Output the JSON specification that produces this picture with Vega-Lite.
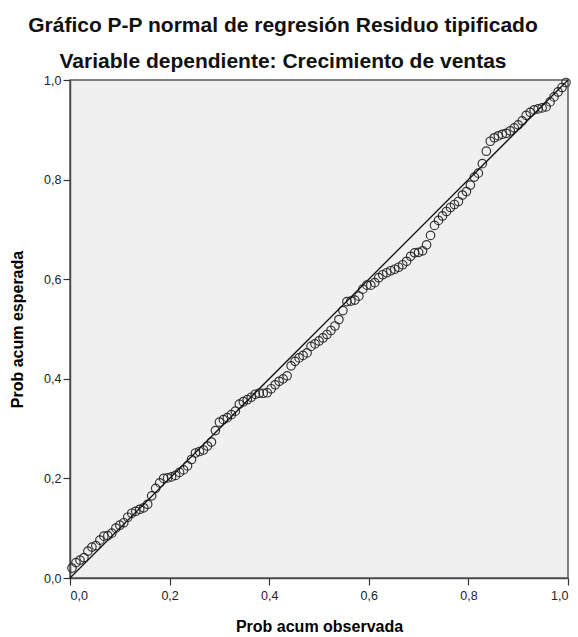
{
  "$schema": "https://vega.github.io/schema/vega-lite/v6.json",
  "width": 498,
  "height": 498,
  "autosize": {"type": "none"},
  "padding": {"left": 70, "top": 80, "right": 10, "bottom": 59},
  "background": "white",
  "config": {
    "font": "Liberation Sans",
    "view": {"fill": "#f0f0f0", "stroke": "#5a5a5a", "strokeWidth": 1.5},
    "axis": {
      "grid": false,
      "domainColor": "#4a4a4a",
      "domainWidth": 1.5,
      "tickColor": "#333333",
      "tickSize": 7,
      "tickWidth": 1.2,
      "labelFont": "Liberation Sans",
      "labelFontSize": 12.5,
      "labelColor": "#222222",
      "titleFont": "Liberation Sans",
      "titleFontSize": 16,
      "titleFontWeight": "bold",
      "titleColor": "#000000"
    }
  },
  "title": {
    "text": "Gráfico P-P normal de regresión Residuo tipificado",
    "subtitle": "Variable dependiente: Crecimiento de ventas",
    "anchor": "middle",
    "frame": "group",
    "dx": -36,
    "offset": 2,
    "font": "Liberation Sans",
    "fontSize": 21,
    "fontWeight": "bold",
    "color": "#111111",
    "subtitleFont": "Liberation Sans",
    "subtitleFontSize": 21,
    "subtitleFontWeight": "bold",
    "subtitleColor": "#111111",
    "subtitlePadding": 15
  },
  "datasets": {
    "pts": [
      {"obs":0.004,"esp":0.020},{"obs":0.012,"esp":0.031},{"obs":0.020,"esp":0.036},{"obs":0.028,"esp":0.041},
      {"obs":0.036,"esp":0.054},{"obs":0.044,"esp":0.062},{"obs":0.052,"esp":0.065},{"obs":0.060,"esp":0.076},
      {"obs":0.068,"esp":0.084},{"obs":0.076,"esp":0.085},{"obs":0.084,"esp":0.090},{"obs":0.092,"esp":0.100},
      {"obs":0.100,"esp":0.106},{"obs":0.108,"esp":0.111},{"obs":0.116,"esp":0.122},{"obs":0.124,"esp":0.130},
      {"obs":0.132,"esp":0.134},{"obs":0.140,"esp":0.138},{"obs":0.148,"esp":0.141},{"obs":0.156,"esp":0.148},
      {"obs":0.164,"esp":0.165},{"obs":0.172,"esp":0.180},{"obs":0.180,"esp":0.191},{"obs":0.188,"esp":0.200},
      {"obs":0.196,"esp":0.201},{"obs":0.204,"esp":0.203},{"obs":0.212,"esp":0.206},{"obs":0.220,"esp":0.212},
      {"obs":0.228,"esp":0.217},{"obs":0.236,"esp":0.225},{"obs":0.244,"esp":0.238},{"obs":0.252,"esp":0.251},
      {"obs":0.260,"esp":0.254},{"obs":0.268,"esp":0.257},{"obs":0.276,"esp":0.265},{"obs":0.284,"esp":0.273},
      {"obs":0.292,"esp":0.296},{"obs":0.300,"esp":0.313},{"obs":0.308,"esp":0.318},{"obs":0.316,"esp":0.322},
      {"obs":0.324,"esp":0.328},{"obs":0.332,"esp":0.335},{"obs":0.340,"esp":0.349},{"obs":0.348,"esp":0.354},
      {"obs":0.356,"esp":0.358},{"obs":0.364,"esp":0.363},{"obs":0.372,"esp":0.369},{"obs":0.380,"esp":0.371},
      {"obs":0.388,"esp":0.371},{"obs":0.396,"esp":0.372},{"obs":0.404,"esp":0.380},{"obs":0.412,"esp":0.388},
      {"obs":0.420,"esp":0.395},{"obs":0.428,"esp":0.400},{"obs":0.436,"esp":0.406},{"obs":0.444,"esp":0.426},
      {"obs":0.452,"esp":0.435},{"obs":0.460,"esp":0.442},{"obs":0.468,"esp":0.447},{"obs":0.476,"esp":0.452},
      {"obs":0.484,"esp":0.465},{"obs":0.492,"esp":0.470},{"obs":0.500,"esp":0.476},{"obs":0.508,"esp":0.482},
      {"obs":0.516,"esp":0.489},{"obs":0.524,"esp":0.497},{"obs":0.532,"esp":0.506},{"obs":0.540,"esp":0.519},
      {"obs":0.548,"esp":0.537},{"obs":0.556,"esp":0.555},{"obs":0.564,"esp":0.556},{"obs":0.572,"esp":0.558},
      {"obs":0.580,"esp":0.566},{"obs":0.588,"esp":0.580},{"obs":0.596,"esp":0.588},{"obs":0.604,"esp":0.588},
      {"obs":0.612,"esp":0.593},{"obs":0.620,"esp":0.603},{"obs":0.628,"esp":0.609},{"obs":0.636,"esp":0.613},
      {"obs":0.644,"esp":0.617},{"obs":0.652,"esp":0.620},{"obs":0.660,"esp":0.624},{"obs":0.668,"esp":0.629},
      {"obs":0.676,"esp":0.636},{"obs":0.684,"esp":0.646},{"obs":0.692,"esp":0.653},{"obs":0.700,"esp":0.654},
      {"obs":0.708,"esp":0.657},{"obs":0.716,"esp":0.669},{"obs":0.724,"esp":0.688},{"obs":0.732,"esp":0.708},
      {"obs":0.740,"esp":0.718},{"obs":0.748,"esp":0.727},{"obs":0.756,"esp":0.736},{"obs":0.764,"esp":0.744},
      {"obs":0.772,"esp":0.750},{"obs":0.780,"esp":0.756},{"obs":0.788,"esp":0.769},{"obs":0.796,"esp":0.776},
      {"obs":0.804,"esp":0.789},{"obs":0.812,"esp":0.805},{"obs":0.820,"esp":0.813},{"obs":0.828,"esp":0.832},
      {"obs":0.836,"esp":0.857},{"obs":0.844,"esp":0.877},{"obs":0.852,"esp":0.884},{"obs":0.860,"esp":0.888},
      {"obs":0.868,"esp":0.891},{"obs":0.876,"esp":0.893},{"obs":0.884,"esp":0.898},{"obs":0.892,"esp":0.904},
      {"obs":0.900,"esp":0.910},{"obs":0.908,"esp":0.918},{"obs":0.916,"esp":0.929},{"obs":0.924,"esp":0.935},
      {"obs":0.932,"esp":0.940},{"obs":0.940,"esp":0.942},{"obs":0.948,"esp":0.944},{"obs":0.956,"esp":0.946},
      {"obs":0.964,"esp":0.956},{"obs":0.972,"esp":0.966},{"obs":0.980,"esp":0.976},{"obs":0.988,"esp":0.985},
      {"obs":0.996,"esp":0.995}
    ],
    "ref": [{"obs": 0, "esp": 0}, {"obs": 1, "esp": 1}]
  },
  "layer": [
    {
      "data": {"name": "pts"},
      "mark": {"type": "point", "shape": "circle", "filled": false, "size": 72, "stroke": "#222222", "strokeWidth": 1.2, "opacity": 0.9, "clip": false},
      "encoding": {
        "x": {
          "field": "obs", "type": "quantitative",
          "scale": {"domain": [0, 1], "nice": false, "zero": false},
          "axis": {
            "title": "Prob acum observada",
            "values": [0, 0.2, 0.4, 0.6, 0.8, 1],
            "labelExpr": "replace(format(datum.value, '.1f'), '.', ',')",
            "labelPadding": 4,
            "titlePadding": 17
          }
        },
        "y": {
          "field": "esp", "type": "quantitative",
          "scale": {"domain": [0, 1], "nice": false, "zero": false},
          "axis": {
            "title": "Prob acum esperada",
            "values": [0, 0.2, 0.4, 0.6, 0.8, 1],
            "labelExpr": "replace(format(datum.value, '.1f'), '.', ',')",
            "labelPadding": 2,
            "titlePadding": 18
          }
        }
      }
    },
    {
      "data": {"name": "ref"},
      "mark": {"type": "line", "color": "#111111", "strokeWidth": 1.3},
      "encoding": {
        "x": {"field": "obs", "type": "quantitative"},
        "y": {"field": "esp", "type": "quantitative"}
      }
    }
  ]
}
